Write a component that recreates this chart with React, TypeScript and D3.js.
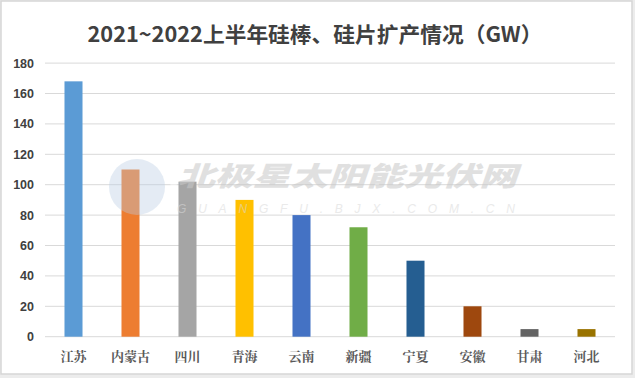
import React from "react";
import * as d3 from "d3";

const categories = ["江苏", "内蒙古", "四川", "青海", "云南", "新疆", "宁夏", "安徽", "甘肃", "河北"];
const values = [168, 110, 102, 90, 80, 72, 50, 20, 5, 5];
const colors = ["#5B9BD5", "#ED7D31", "#A5A5A5", "#FFC000", "#4472C4", "#70AD47", "#255E91", "#9E480E", "#636363", "#997300"];
const yTicks = [0, 20, 40, 60, 80, 100, 120, 140, 160, 180];
const title = "2021~2022上半年硅棒、硅片扩产情况（GW）";

export default function App() {
  const W = 635, H = 378;
  const left = 45, right = 615, top = 63.1, bottom = 336.7;
  const x = d3.scaleBand<string>().domain(categories).range([left, right]).paddingInner(0.684).paddingOuter(0.342);
  const y = d3.scaleLinear().domain([0, 180]).range([bottom, top]);
  return (
    <svg width={W} height={H} style={{ display: "block", position: "absolute", left: 0, top: 0 }}>
      <rect x={0} y={0} width={W} height={H} fill="#ececec" />
      <rect x={1} y={1} width={631} height={373} fill="#ffffff" stroke="#d6d6d6" strokeWidth={1.5} />
      <text x={315} y={42} textAnchor="middle" fontFamily="'Noto Sans CJK SC', 'Noto Sans', sans-serif" fontWeight="bold" fontSize={21} fill="#404040" textLength={455} lengthAdjust="spacingAndGlyphs">{title}</text>
      {yTicks.map(t => (
        <g key={t}>
          <line x1={left} x2={right} y1={y(t)} y2={y(t)} stroke="#d9d9d9" strokeWidth={1} />
          <text x={34} y={y(t) + 4.5} textAnchor="end" fontFamily="'Liberation Sans', Arial, sans-serif" fontWeight="bold" fontSize={12.5} fill="#404040">{t}</text>
        </g>
      ))}
      {categories.map((c, i) => (
        <rect key={c} x={x(c)} y={y(values[i])} width={x.bandwidth()} height={y(0) - y(values[i])} fill={colors[i]} />
      ))}
      {categories.map(c => (
        <text key={c} x={(x(c) as number) + x.bandwidth() / 2} y={361} textAnchor="middle" fontFamily="'Noto Serif CJK SC', 'Noto Sans CJK SC', serif" fontWeight="bold" fontSize={13} fill="#595959">{c}</text>
      ))}
      <g opacity={0.55} pointerEvents="none">
        <circle cx={137} cy={187} r={28} fill="#b9cde4" opacity={0.7} />
        <path d="M 150 160 A 28 28 0 0 1 150 214 A 22 22 0 0 0 150 160 Z" fill="#ffffff" opacity={0.8} />
        <text x={177} y={186} fontFamily="'Noto Sans CJK SC', sans-serif" fontWeight="900" fontStyle="italic" fontSize={27} fill="#c8c8c8" textLength={340} lengthAdjust="spacingAndGlyphs">北极星太阳能光伏网</text>
        <text x={177} y={213} fontFamily="'Liberation Sans', Arial, sans-serif" fontStyle="italic" fontSize={12} fill="#d9d9d9" textLength={338} lengthAdjust="spacing">GUANGFU.BJX.COM.CN</text>
      </g>
    </svg>
  );
}
